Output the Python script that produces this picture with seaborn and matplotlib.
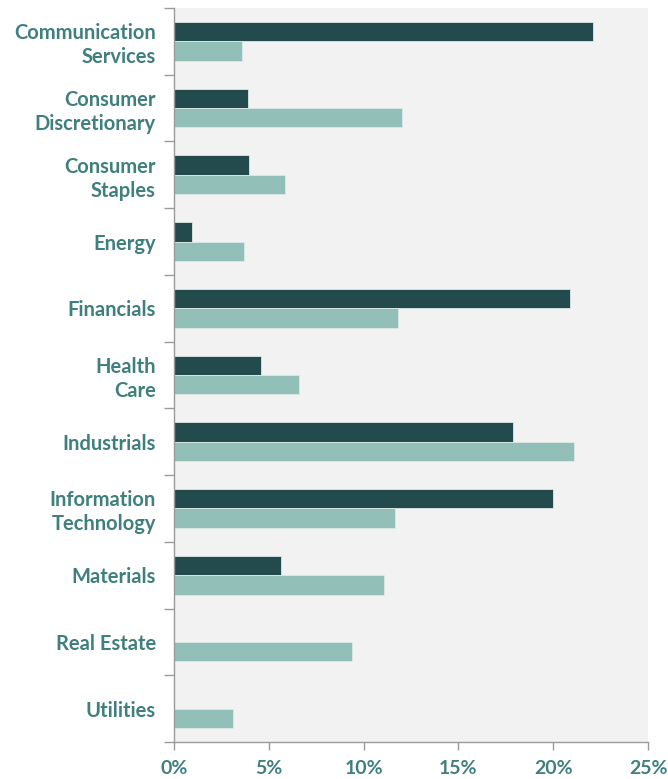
import numpy as np
import pandas as pd
import matplotlib
matplotlib.use("Agg")
import matplotlib.pyplot as plt
from matplotlib.ticker import FixedLocator, PercentFormatter
import seaborn as sns

sectors = ["Communication\nServices", "Consumer\nDiscretionary", "Consumer\nStaples",
           "Energy", "Financials", "Health\nCare", "Industrials",
           "Information\nTechnology", "Materials", "Real Estate", "Utilities"]
fund = [22.1, 3.9, 3.95, 0.95, 20.9, 4.6, 17.9, 20.0, 5.65, np.nan, np.nan]
index = [3.6, 12.0, 5.85, 3.7, 11.8, 6.6, 21.1, 11.65, 11.1, 9.4, 3.1]

df = pd.DataFrame({"sector": sectors * 2,
                   "weight": fund + index,
                   "series": ["Fund"] * len(sectors) + ["Index"] * len(sectors)})

dark = "#234a4c"
light = "#93bfb9"
text_col = "#3f7f7e"
axis_col = "#9a9a9a"

sns.set_theme(style="white")
plt.rcParams["font.family"] = ["Lato", "DejaVu Sans"]

fig = plt.figure(figsize=(6.68, 7.79), dpi=100)
ax = fig.add_axes([174 / 668, 1 - 742 / 779, 474 / 668, 734 / 779])
ax.set_facecolor("#f2f2f2")

sns.barplot(data=df, y="sector", x="weight", hue="series", orient="h",
            palette=[dark, light], saturation=1, width=0.58,
            edgecolor="#dde9e6", linewidth=0.6, ax=ax, legend=False)

ax.set_xlim(0, 25)
ax.set_ylim(len(sectors) - 0.5, -0.5)
ax.set_xticks([0, 5, 10, 15, 20, 25])
ax.xaxis.set_major_formatter(PercentFormatter(decimals=0))
ax.yaxis.set_minor_locator(FixedLocator(np.arange(-0.5, len(sectors), 1)))
ax.tick_params(axis="y", which="major", length=0, pad=13)
ax.tick_params(axis="y", which="minor", length=7, width=1, color=axis_col, left=True)
ax.tick_params(axis="x", length=6, width=1, color=axis_col, bottom=True, pad=7)
for lab in ax.get_yticklabels():
    lab.set_fontsize(14.5)
    lab.set_fontweight("bold")
    lab.set_color(text_col)
    lab.set_linespacing(1.25)
for lab in ax.get_xticklabels():
    lab.set_fontsize(14)
    lab.set_fontweight("bold")
    lab.set_color(text_col)

ax.set_xlabel("")
ax.set_ylabel("")
for side in ["top", "right"]:
    ax.spines[side].set_visible(False)
for side in ["left", "bottom"]:
    ax.spines[side].set_color(axis_col)
    ax.spines[side].set_linewidth(1)

fig.savefig("out.png", dpi=100)
